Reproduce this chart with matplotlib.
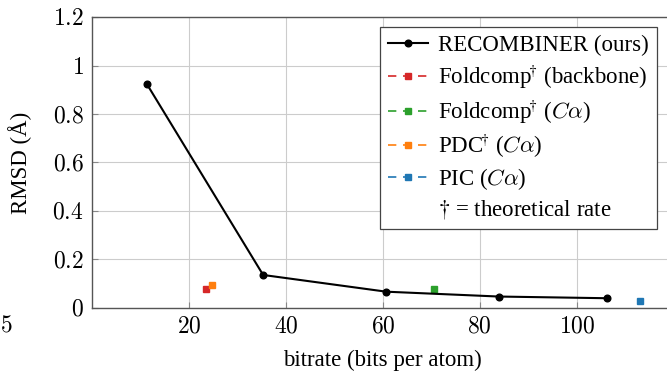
import numpy as np
import matplotlib
matplotlib.use('Agg')
from matplotlib import pyplot as plt
from matplotlib.lines import Line2D
from matplotlib.ticker import FuncFormatter

plt.rcParams['font.family'] = ['Liberation Serif', 'DejaVu Serif']
plt.rcParams['mathtext.fontset'] = 'cm'

# RECOMBINER rate-distortion curve
recomb_bits = [11.3, 35.3, 60.7, 83.9, 106.3]
recomb_rmsd = [0.924, 0.136, 0.067, 0.047, 0.040]

# single-point baselines: (bits per atom, RMSD)
foldcomp_bb = (23.6, 0.077)
foldcomp_ca = (70.6, 0.077)
pdc_ca = (24.8, 0.096)
pic_ca = (113.1, 0.030)

dag = '$\\!^{\\dagger}$'
baseline_labels = ['Foldcomp' + dag + ' (backbone)', 'Foldcomp' + dag + ' ($C\\alpha$)',
                   'PDC' + dag + ' ($C\\alpha$)', 'PIC ($C\\alpha$)']
baseline_colors = ['#d62728', '#2ca02c', '#ff7f0e', '#1f77b4']
baselines = [foldcomp_bb, foldcomp_ca, pdc_ca, pic_ca]

fig = plt.figure(figsize=(6.67, 3.71), dpi=100)
ax = fig.add_axes([0.138, 0.170, 0.872, 0.784])

ax.plot(recomb_bits, recomb_rmsd, color='black', lw=1.5, marker='o', ms=4.8,
        label='RECOMBINER (ours)', zorder=5)
for (bx, by), lab, col in zip(baselines, baseline_labels, baseline_colors):
    ax.plot([bx], [by], ls='--', dashes=(5, 4), color=col, marker='s', ms=4.5, lw=1.2,
            label=lab, zorder=4)

ax.set_xlim(0, 120)
ax.set_ylim(0, 1.2)
ax.set_xticks([20, 40, 60, 80, 100])
ax.set_yticks([0, 0.2, 0.4, 0.6, 0.8, 1.0, 1.2])
fmt = FuncFormatter(lambda v, pos: '$%g$' % round(v, 2))
ax.xaxis.set_major_formatter(fmt)
ax.yaxis.set_major_formatter(fmt)
ax.tick_params(direction='in', length=4, color='#888888', labelsize=17, pad=6)
ax.grid(True, color='#cccccc', lw=0.8)
ax.set_axisbelow(True)
for s in ax.spines.values():
    s.set_color('#555555')
    s.set_linewidth(1.0)

ax.set_xlabel('bitrate (bits per atom)', fontsize=16.5, labelpad=9)
ax.set_ylabel('RMSD (Å)', fontsize=16.5)
ax.yaxis.set_label_coords(-0.103, 0.5)

handles, labels = ax.get_legend_handles_labels()
handles.append(Line2D([], [], color='none'))
labels.append('$\\dagger$ = theoretical rate')
leg = ax.legend(handles, labels, loc='upper right', bbox_to_anchor=(0.971, 0.966),
                borderaxespad=0, fontsize=16.5, frameon=True, fancybox=False,
                edgecolor='#444444', handlelength=1.75, handletextpad=0.45,
                labelspacing=0.25, borderpad=0.35, framealpha=1.0)
leg.get_frame().set_linewidth(0.9)

# stray tick label from the neighbouring panel
fig.text(0.0, 0.12, '$5$', fontsize=17, ha='left', va='center')

fig.savefig('out.png', dpi=100)
